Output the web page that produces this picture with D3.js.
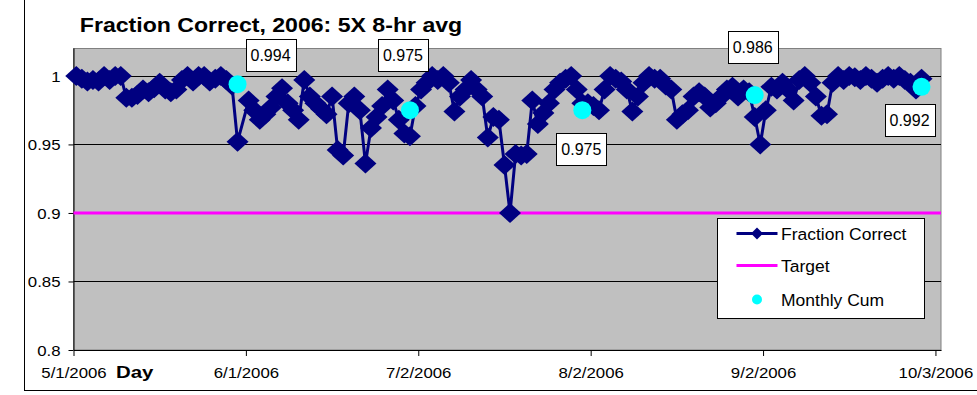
<!DOCTYPE html>
<html>
<head>
<meta charset="utf-8">
<script src="https://cdn.jsdelivr.net/npm/d3@7"></script>
<style>
  body { margin: 0; background: #fff; }
  svg { display: block; }
  text { font-family: "Liberation Sans", Arial, sans-serif; fill: #000; }
</style>
</head>
<body>
<svg id="chart" width="977" height="395"></svg>
<script>
// ---- data ----
const firstDay = "2006-05-01";
const lastDay = "2006-09-30";
const readingHour = 12; // each daily average is stamped at midday
// daily fraction correct (5X, 8-hr average), one entry per day from firstDay to lastDay; null = no reading
const fractionCorrect = [
  // May
  1.0, 0.998, 0.996, 0.997, 0.996, 1.0, 0.997, 1.0, 1.0, 0.984,
  0.984, 0.986, 0.99, 0.988, 0.991, 0.995, 0.99, 0.988, 0.99, 0.997,
  1.0, 0.996, 1.0, 1.0, 0.996, 0.998, 1.0, 0.997, 0.993, 0.952, null,
  // June
  0.982, 0.975, 0.968, 0.972, 0.977, 0.985, 0.991, 0.98, 0.975, 0.968,
  0.997, 0.985, 0.98, 0.976, 0.972, 0.985, 0.946, 0.942, 0.98, 0.985,
  0.975, 0.936, 0.962, 0.97, 0.978, 0.99, 0.982, 0.968, 0.958, 0.956,
  // July
  0.978, 0.99, 0.995, 1.0, 0.997, 1.0, 0.995, 0.974, 0.985, 0.99,
  0.997, 0.99, 0.985, 0.955, 0.97, 0.968, 0.935, 0.9, 0.943, 0.942,
  0.943, 0.982, 0.965, 0.973, 0.98, 0.99, 0.995, 0.998, 1.0, 0.99, 0.98,
  // August
  0.98, 0.978, 0.975, 0.99, 1.0, 0.998, 0.996, 0.99, 0.974, 0.985,
  0.995, 1.0, 0.998, 0.998, 0.993, 0.99, 0.968, 0.972, 0.975, 0.985,
  0.988, 0.985, 0.977, 0.98, 0.985, 0.99, 0.992, 0.985, 0.99, 0.988, 0.97,
  // September
  0.95, 0.975, 0.992, 0.99, 0.995, 0.99, 0.982, 0.997, 1.0, 0.995,
  0.985, 0.971, 0.972, 0.995, 1.0, 0.997, 1.0, 0.999, 0.997, 1.0,
  0.998, 0.995, 0.998, 1.0, 0.998, 1.0, 0.997, 0.995, 0.99, 0.998
];
const monthlyCumDates = ["2006-05-30", "2006-06-30", "2006-07-31", "2006-08-31", "2006-09-30"];
const monthlyCumValues = [0.994, 0.975, 0.975, 0.986, 0.992];
const targetValue = 0.9;
const yTickValues = [0.8, 0.85, 0.9, 0.95, 1];
const xTickDates = ["2006-05-01", "2006-06-01", "2006-07-02", "2006-08-02", "2006-09-02", "2006-10-03"];
const legendLabels = ["Fraction Correct", "Target", "Monthly Cum"];
const titleText = "Fraction Correct, 2006: 5X 8-hr avg";
const xAxisTitle = "Day";

// ---- layout ----
const plot = { left: 73.5, right: 941, top: 48.5, bottom: 350 };
const navy = "#000080", magenta = "#FF00FF", cyan = "#00FFFF", plotFill = "#C0C0C0";
// where each monthly label box sits, relative to its point
const cumLabelOffsets = [[33, -29], [-7, -55], [-1, 39], [-2, -48], [-12, 33]];

const parse = d3.utcParse("%Y-%m-%d");
const atReading = d => d3.utcHour.offset(d, readingHour);
const days = d3.utcDay.range(parse(firstDay), d3.utcDay.offset(parse(lastDay), 1));
const series = days
  .map((d, i) => ({ date: atReading(d), value: fractionCorrect[i] }))
  .filter(d => d.value != null);
const cum = monthlyCumDates.map((d, i) => ({ date: atReading(parse(d)), value: monthlyCumValues[i] }));

const x = d3.scaleUtc()
  .domain([parse("2006-05-01"), parse("2006-10-04")])
  .range([plot.left, plot.right]);
const y = d3.scaleLinear().domain([0.8, 1.02]).range([plot.bottom, plot.top]);

const svg = d3.select("#chart");

// outer chart border (only its left and bottom edges are inside the frame)
svg.append("rect")
  .attr("x", 24.5).attr("y", -20).attr("width", 1000).attr("height", 410.5)
  .attr("fill", "none").attr("stroke", "#000").attr("stroke-width", 1);

// plot area
svg.append("rect")
  .attr("x", plot.left).attr("y", plot.top)
  .attr("width", plot.right - plot.left).attr("height", plot.bottom - plot.top)
  .attr("fill", plotFill).attr("stroke", "#808080").attr("stroke-width", 1);

// horizontal gridlines
svg.append("g").selectAll("line")
  .data(yTickValues.filter(v => v > 0.8))
  .join("line")
  .attr("x1", plot.left).attr("x2", plot.right)
  .attr("y1", d => Math.round(y(d)) + 0.5).attr("y2", d => Math.round(y(d)) + 0.5)
  .attr("stroke", "#000").attr("stroke-width", 1);

// helper for horizontally widened text
function wideText(g, str, px, py, size, sx, anchor, weight) {
  return g.append("text")
    .attr("transform", `translate(${px},${py}) scale(${sx},1)`)
    .attr("text-anchor", anchor)
    .attr("font-size", size)
    .attr("font-weight", weight || "normal")
    .text(str);
}

// y axis
const yAxis = svg.append("g")
  .attr("transform", `translate(${plot.left},0)`)
  .call(d3.axisLeft(y).tickValues(yTickValues).tickSize(5).tickSizeOuter(0)
    .tickFormat(d => String(+d.toFixed(2))));
yAxis.select(".domain").attr("stroke", "#000").attr("d", `M0.5,${plot.top}V${plot.bottom}`);
yAxis.selectAll(".tick line").attr("stroke", "#000");
yAxis.selectAll(".tick text")
  .attr("x", 0).attr("dy", null)
  .attr("font-size", 15).attr("font-family", '"Liberation Sans", Arial, sans-serif')
  .attr("dominant-baseline", "central")
  .attr("transform", "translate(-13,0) scale(1.12,1)");

// x axis
const xAxis = svg.append("g")
  .attr("transform", `translate(0,${plot.bottom})`)
  .call(d3.axisBottom(x).tickValues(xTickDates.map(parse)).tickSize(6).tickSizeOuter(0)
    .tickFormat(d3.utcFormat("%-m/%-d/%Y")));
xAxis.select(".domain").attr("stroke", "#000");
xAxis.selectAll(".tick line").attr("stroke", "#000");
xAxis.selectAll(".tick text")
  .attr("y", 0).attr("dy", null)
  .attr("font-size", 14).attr("font-family", '"Liberation Sans", Arial, sans-serif')
  .attr("transform", "translate(0,27.5) scale(1.2,1)");

// target line
svg.append("line")
  .attr("x1", plot.left).attr("x2", plot.right)
  .attr("y1", y(targetValue)).attr("y2", y(targetValue))
  .attr("stroke", magenta).attr("stroke-width", 3);

// fraction correct line with diamond markers
const line = d3.line().x(d => x(d.date)).y(d => y(d.value));
svg.append("path")
  .datum(series)
  .attr("d", line)
  .attr("fill", "none").attr("stroke", navy).attr("stroke-width", 3)
  .attr("stroke-linejoin", "round");

const diamond = (cx, cy, rx, ry) => `M${cx},${cy - ry}L${cx + rx},${cy}L${cx},${cy + ry}L${cx - rx},${cy}Z`;
svg.append("g").selectAll("path")
  .data(series)
  .join("path")
  .attr("d", d => diamond(x(d.date), y(d.value), 11, 10))
  .attr("fill", navy);

// monthly cumulative points
svg.append("g").selectAll("circle")
  .data(cum)
  .join("circle")
  .attr("cx", d => x(d.date)).attr("cy", d => y(d.value)).attr("r", 9)
  .attr("fill", cyan);

// monthly cumulative value labels
const labelG = svg.append("g");
cum.forEach((d, i) => {
  const cx = x(d.date) + cumLabelOffsets[i][0];
  const cy = y(d.value) + cumLabelOffsets[i][1];
  labelG.append("rect")
    .attr("x", Math.round(cx - 25) + 0.5).attr("y", Math.round(cy - 16) + 0.5)
    .attr("width", 50).attr("height", 32)
    .attr("fill", "#fff").attr("stroke", "#000").attr("stroke-width", 1);
  labelG.append("text")
    .attr("x", cx).attr("y", cy + 6)
    .attr("text-anchor", "middle").attr("font-size", 16)
    .text(d3.format(".3f")(d.value));
});

// title and x-axis title
wideText(svg, titleText, 271, 32, 21, 1.1, "middle", "bold");
wideText(svg, xAxisTitle, 116, 377.5, 17, 1.2, "start", "bold");

// legend
const lg = svg.append("g").attr("transform", "translate(717.5,218.5)");
lg.append("rect").attr("width", 207).attr("height", 100)
  .attr("fill", "#fff").attr("stroke", "#000").attr("stroke-width", 1);
const rowY = [15, 47, 81];
lg.append("line").attr("x1", 19).attr("x2", 60).attr("y1", rowY[0]).attr("y2", rowY[0])
  .attr("stroke", navy).attr("stroke-width", 3);
lg.append("path").attr("d", diamond(39.5, rowY[0], 6, 6)).attr("fill", navy);
lg.append("line").attr("x1", 19).attr("x2", 60).attr("y1", rowY[1]).attr("y2", rowY[1])
  .attr("stroke", magenta).attr("stroke-width", 3);
lg.append("circle").attr("cx", 39.5).attr("cy", rowY[2]).attr("r", 5).attr("fill", cyan);
legendLabels.forEach((t, i) => {
  wideText(lg, t, 63.5, rowY[i] + 6, 17, 1.03, "start");
});
</script>
</body>
</html>
